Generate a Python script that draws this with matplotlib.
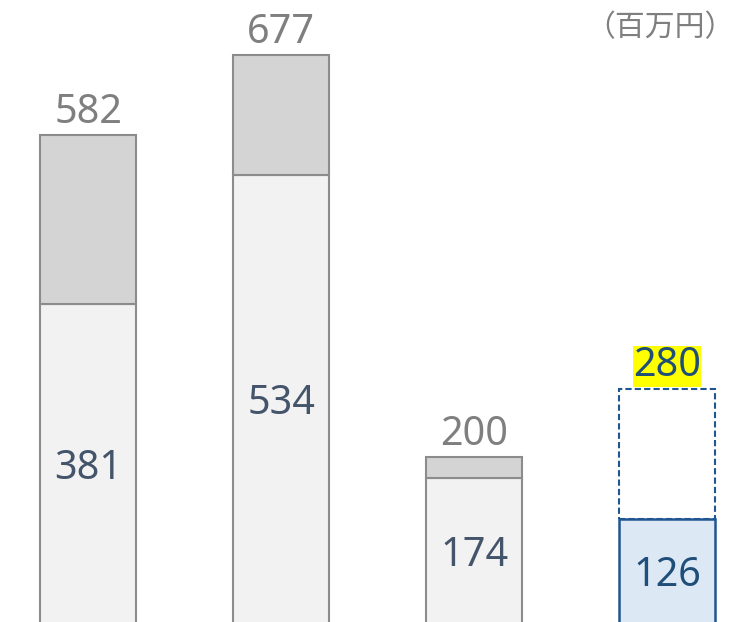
import matplotlib
matplotlib.use("Agg")
import matplotlib.pyplot as plt

categories = ["A", "B", "C", "D"]
bottom_vals = [381, 534, 174, 126]
totals = [582, 677, 200, 280]
unit_label = "（百万円）"

plt.rcParams['font.family'] = ['Noto Sans', 'Noto Sans CJK JP', 'DejaVu Sans']

fig = plt.figure(figsize=(7.35, 6.22), dpi=100)
ax = fig.add_axes([0, 0, 1, 1])
ax.set_axis_off()

px = 0.842  # pixels per unit
base = 625.0  # pixel row of the baseline (just below the figure)
ax.set_xlim(-0.456, 3.352)
ax.set_ylim((base - 622) / px, base / px)

x = list(range(len(categories)))
w = 0.497
gray_edge = "#8c8c8c"
blue = "#1f5591"
fs = 28.5
dy = -4 / px  # shift text down a bit

for i in x:
    b = bottom_vals[i]
    t = totals[i]
    if i < 3:
        ax.bar(i, b, width=w, color="#f2f2f2", edgecolor=gray_edge, linewidth=1.5, zorder=2)
        ax.bar(i, t - b, bottom=b, width=w, color="#d4d4d4", edgecolor=gray_edge, linewidth=1.5, zorder=2)
        ax.text(i, t + 26 / px + dy, str(t), ha="center", va="center", fontsize=fs,
                color="#7f7f7f", fontweight="light")
        ax.text(i, b / 2 + dy, str(b), ha="center", va="center", fontsize=fs,
                color="#44546a", fontweight="light")
    else:
        ax.bar(i, t - b, bottom=b, width=w, color="white", edgecolor=blue, linewidth=1.5,
               linestyle=(0, (3, 1.5)), zorder=2)
        ax.bar(i, b, width=w, color="#dde8f5", edgecolor=blue, linewidth=1.8, zorder=3)
        ax.text(i, t + 27 / px + dy, str(t), ha="center", va="center", fontsize=fs,
                color="#1f4e79", fontweight="light",
                bbox=dict(facecolor="#ffff00", edgecolor="none", pad=0.3))
        ax.text(i, b / 2 + dy, str(b), ha="center", va="center", fontsize=fs,
                color="#1f4e79", fontweight="light")

fig.text(0.999, 0.955, unit_label, ha="right", va="center", fontsize=21.5, color="#7f7f7f",
         family=['Noto Sans CJK JP', 'DejaVu Sans'])

fig.savefig("out.png", dpi=100)
